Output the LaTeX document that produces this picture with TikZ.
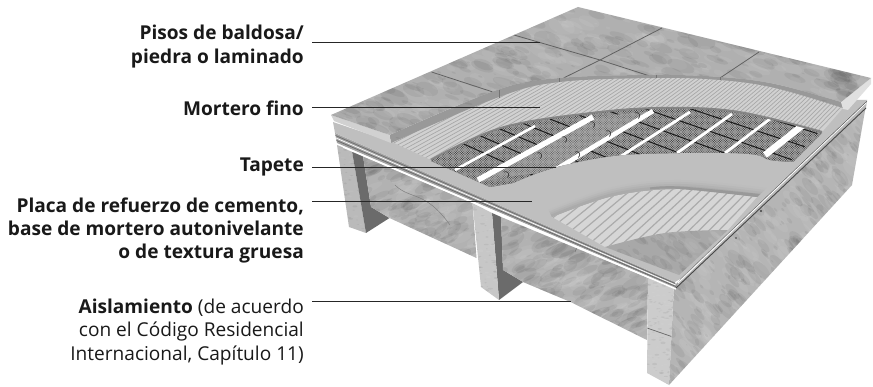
\documentclass[tikz,border=0pt]{standalone}
\usepackage{fontspec}
\setmainfont{Open Sans}
\usetikzlibrary{calc}
\newcommand{\mottle}[7]{% x0 y0 x1 y1 n rmax rotate
  \foreach \ii in {1,...,#5}{%
    \pgfmathsetmacro\mx{#1+rnd*(#3-#1)}%
    \pgfmathsetmacro\my{#2+rnd*(#4-#2)}%
    \pgfmathsetmacro\ra{.8+rnd*#6}%
    \pgfmathsetmacro\rb{\ra*(.22+.35*rnd)}%
    \pgfmathparse{int(mod(\ii,2))}%
    \ifnum\pgfmathresult=1\def\mc{white}\else\def\mc{black}\fi
    \fill[\mc,opacity=.055,rotate around={#7:(\mx,\my)}] (\mx,\my) ellipse [x radius=\ra pt,y radius=\rb pt];
  }}
\newcommand{\ribs}[4]{% count colour width first
  \foreach \ii in {1,...,#1}{%
    \pgfmathsetmacro\tt{(\ii-.5)/#1}%
    \draw[#2,line width=#3] ({331+345*\tt},{115+165*\tt}) -- ({578+293*\tt},{7+71*\tt});
  }}
\newcommand{\meshlines}{%
  \foreach \k in {0,...,215}{%
    \draw[black!30,line width=.55pt] ({425+2.4*\k},100) -- ++(-100,100);
    \draw[black!30,line width=.55pt] ({325+2.4*\k},100) -- ++(100,100);
  }}
\tikzset{
  leader/.style={draw=black!85,line width=.95pt},
  lab/.style={anchor=base east,inner sep=0pt,align=right,text=black!90,font=\fontsize{19.1}{23.3}\selectfont},
  rowline/.style={black!90,line width=1pt},
  jointline/.style={black!62,line width=.8pt},
  strip/.style={white,line cap=butt},
  loop/.style={black!80,line width=.6pt}
}
\begin{document}
\begin{tikzpicture}[x=1pt,y=-1pt]
\pgfmathsetseed{4711}
\useasboundingbox (0,0) rectangle (873,387);
\fill[white] (0,0) rectangle (873,387);

% --- structure below the slab ---
\fill[black!27] (337,145) -- (352,151) -- (366,233) -- (349,227) -- cycle;
\begin{scope}
  \clip (337,145) -- (352,151) -- (366,233) -- (349,227) -- cycle;
  \mottle{335}{143}{368}{235}{130}{1.8}{0}
\end{scope}
\fill[black!58] (352,151) -- (363,156) -- (371,207) -- (389.5,218) -- (366,233) -- cycle;
\fill[black!30] (363,156) -- (472.5,203) -- (476.5,258) -- (389.5,218) -- (371,207) -- cycle;
\begin{scope}
  \clip (363,156) -- (472.5,203) -- (476.5,258) -- (389.5,218) -- (371,207) -- cycle;
  \mottle{360}{155}{478}{260}{260}{14}{25}
  \draw[black!50,line width=.5pt] (395,185) .. controls (410,200) and (425,190) .. (450,225);
\end{scope}
\fill[black!58] (492,213) -- (501,217) -- (503,270) -- (523,282) -- (499,300) -- cycle;
\fill[black!22] (472.5,203) -- (492,213) -- (499,300) -- (481,287) -- cycle;
\begin{scope}
  \clip (472.5,203) -- (492,213) -- (499,300) -- (481,287) -- cycle;
  \mottle{470}{200}{500}{302}{150}{1.8}{0}
\end{scope}
\fill[black!30] (501,217) -- (648,278) -- (647,340) -- (570.5,302) -- (523,282) -- (503,270) -- cycle;
\begin{scope}
  \clip (501,217) -- (648,278) -- (647,340) -- (570.5,302) -- (523,282) -- (503,270) -- cycle;
  \mottle{498}{215}{650}{342}{400}{15}{25}
  \draw[black!55,line width=.6pt] (580,240) -- (575,252);
\end{scope}
\fill[black!20] (648,278) -- (674,284) -- (669,385) -- (647,373) -- cycle;
\begin{scope}
  \clip (648,278) -- (674,284) -- (669,385) -- (647,373) -- cycle;
  \mottle{645}{276}{676}{387}{220}{1.8}{0}
  \draw[black!60,line width=.7pt] (647,328) -- (673,337);
\end{scope}
\fill[black!29] (674,286) -- (866,105) -- (852,185) -- (669,385) -- cycle;
\begin{scope}
  \clip (674,286) -- (866,105) -- (852,185) -- (669,385) -- cycle;
  \mottle{665}{100}{868}{388}{1100}{11}{-48}
\end{scope}
\fill[black!75] (761,211) circle (1.1pt) (736,238) circle (.9pt);

% --- slab edges ---
\fill[black!36] (335,133) -- (675,282) -- (676,288) -- (337,143) -- cycle;
\foreach \f/\c in {.25/black!58,.5/white,.75/black!60}{
  \draw[\c,line width=.7pt] ($(335,133)!\f!(337,143)$) -- ($(675,282)!\f!(676,288)$);
}
\draw[white,line width=1.5pt] (343,147) -- (676,289);
\fill[black!28] (867,100) -- (680,279) -- (676,288) -- (866,108) -- cycle;
\draw[white,line width=.8pt] (866,103) -- (678,283);
\draw[black!72,line width=.9pt] (866,108) -- (676,288);
\draw[black!60,line width=.6pt] (867,101) -- (680,279);

% --- plate surface ---
\fill[black!25] (333,122) -- (392,142) -- (578,40) -- (848,100) -- (867,100) -- (680,279) -- (675,282) -- (335,133) -- cycle;

% --- lower ribbed area and exposed insulation ---
\fill[black!16] plot[smooth,tension=.6] coordinates {(552,217) (613,196) (680,189) (757,197)}
   -- (727,231) -- (605,247) -- cycle;
\begin{scope}
  \clip plot[smooth,tension=.6] coordinates {(552,217) (613,196) (680,189) (757,197)}
   -- (727,231) -- (605,247) -- cycle;
  \ribs{48}{black!33}{1.2pt}{}
\end{scope}
\fill[black!34] plot[smooth,tension=.6] coordinates {(605,247) (665,233) (728,230)} -- (679,275) -- cycle;
\begin{scope}
  \clip plot[smooth,tension=.6] coordinates {(605,247) (665,233) (728,230)} -- (679,275) -- cycle;
  \mottle{600}{228}{730}{278}{120}{10}{-40}
\end{scope}
% plate lip: a soft step from the plate to its shadow
\foreach \d/\c in {9/black!26,7/black!28,5/black!30,3/black!33}{
  \fill[\c] plot[smooth,tension=.6] coordinates {(552,217) (613,196) (680,189) (757,197)}
   -- plot[smooth,tension=.6] coordinates {({757+\d*1.1},{197-\d}) (680,{189-\d}) (613,{196-\d}) ({552-.4*\d},{217-.8*\d})} -- cycle;
}
\fill[black!40] plot[smooth,tension=.6] coordinates {(650,189.5) (680,189) (757,197)}
   -- plot[smooth,tension=.6] coordinates {(760,194) (680,186.5) (650,187.5)} -- cycle;

% --- upper ribbed mortar ---
\fill[black!18] plot[smooth,tension=.6] coordinates {(392,142) (499,97) (559.5,82) (656,78) (720,80) (775,88) (843,108)}
   -- plot[smooth,tension=.6] coordinates {(822,132) (738.6,112) (665.5,108) (592,113) (501,128) (431,160)} -- cycle;
\begin{scope}
  \clip plot[smooth,tension=.6] coordinates {(392,142) (499,97) (559.5,82) (656,78) (720,80) (775,88) (843,108)}
   -- plot[smooth,tension=.6] coordinates {(822,132) (738.6,112) (665.5,108) (592,113) (501,128) (431,160)} -- cycle;
  \ribs{88}{black!34}{.7pt}{}
\end{scope}
% shadow of the mortar on the mesh
\draw[black!48,line width=2.2pt] plot[smooth,tension=.6] coordinates {(431,160) (501,128) (592,113) (665.5,108) (738.6,112) (822,132)};

% --- mesh with heating wires ---
\fill[black!78] plot[smooth,tension=.6] coordinates {(431,161) (501,129) (592,114) (665.5,109) (738.6,113) (822,133)}
   -- plot[smooth,tension=.6] coordinates {(793,162) (770,160) (757,155) (730,153) (680,153) (613,156) (553,168) (513,183)}
   -- (490,187) -- cycle;
\begin{scope}
  \clip plot[smooth,tension=.6] coordinates {(431,161) (501,129) (592,114) (665.5,109) (738.6,113) (822,133)}
   -- plot[smooth,tension=.6] coordinates {(793,162) (770,160) (757,155) (730,153) (680,153) (613,156) (553,168) (513,183)}
   -- (490,187) -- cycle;
  \meshlines
  \foreach \s in {.14,.205,...,.8}{
    \draw[rowline] ({331+247*\s},{115-108*\s}) -- ({676+195*\s},{280-202*\s});
  }
  \fill[black!62] (593,117) -- (653,111) -- (555,170) -- (478,182) -- cycle;
  \begin{scope}
    \clip (593,117) -- (653,111) -- (555,170) -- (478,182) -- cycle;
    \meshlines
  \end{scope}
  \draw[strip,line width=2.6pt] (535,126) -- (455,170);
  \draw[strip,line width=5.4pt] (593,117) -- (478,180);
  \draw[strip,line width=4.6pt] (653,111) -- (555,170);
  \draw[strip,line width=2.8pt] (690,112) -- (618,158);
  \draw[strip,line width=2.8pt] (732,114) -- (677,153);
  \draw[strip,line width=2.8pt] (770,119) -- (725,153);
  \draw[strip,line width=6.5pt] (803,125) -- (765,155);
  \foreach \lx/\ly in {590/122, 562/137, 537/153, 504/172, 606/131, 575/152, 540/173, 635/113, 792/141}{
    \draw[loop] (\lx,\ly) arc[start angle=120,end angle=-60,radius=3.2pt];
  }
\end{scope}

% --- tiles ---
\fill[black!40] plot[smooth,tension=.6] coordinates {(389.5,135) (497,90) (559.5,78) (654.5,75) (720,77) (775,84) (841,102)}
   -- plot[smooth,tension=.6] coordinates {(843,108) (775,88) (720,80) (656,78) (559.5,82) (499,97) (391,143)} -- cycle;
\begin{scope}
  \clip plot[smooth,tension=.6] coordinates {(389.5,135) (497,90) (559.5,78) (654.5,75) (720,77) (775,84) (841,102)}
   -- plot[smooth,tension=.6] coordinates {(843,108) (775,88) (720,80) (656,78) (559.5,82) (499,97) (391,143)} -- cycle;
  \mottle{388}{72}{845}{145}{130}{4}{-10}
\end{scope}
\fill[black!18] (331,115) -- (389.5,135) -- (391,143) -- (334,121) -- cycle;
\fill[black!12] (871,78) -- (841,102) -- (843,109) -- (848,110) -- (871,84) -- cycle;
\fill[black!31] (331,115) -- (578,7) -- (871,78) -- plot[smooth,tension=.6] coordinates {(841,102) (775,84) (720,77) (654.5,75) (559.5,78) (497,90) (389.5,135)} -- cycle;
\begin{scope}
  \clip (331,115) -- (578,7) -- (871,78) -- plot[smooth,tension=.6] coordinates {(841,102) (775,84) (720,77) (654.5,75) (559.5,78) (497,90) (389.5,135)} -- cycle;
  \mottle{330}{5}{872}{137}{1100}{14}{-20}
  \draw[jointline] (514,35) -- (600,60) -- (656,78);
  \draw[jointline] (662,28) -- (600,60) -- (559.5,80);
  \draw[jointline] (431.6,72) -- (499,94);
  \draw[jointline] (759,52) -- (720,78);
\end{scope}
\draw[black!55,line width=.7pt] (499,90) -- (499,98) (559.5,78) -- (559.5,82) (656,75) -- (656,78) (720,77) -- (720,80);

% --- labels ---
\node[lab] (lab1) at (304,63.3) {\textbf{Pisos de baldosa/}\\\textbf{piedra o laminado}};
\node[lab] (lab2) at (304,115.7) {\textbf{Mortero fino}};
\node[lab] (lab3) at (304,171.7) {\textbf{Tapete}};
\node[lab] (lab4) at (304,259) {\textbf{Placa de refuerzo de cemento,}\\\textbf{base de mortero autonivelante}\\\textbf{o de textura gruesa}};
\node[lab] (lab5) at (304,360) {\textbf{Aislamiento} (de acuerdo\\con el Código Residencial\\Internacional, Capítulo 11)};

\coordinate (t1) at (539.5,42.7);
\coordinate (t2) at (539.5,107.3);
\coordinate (t3) at (556,167.7);
\coordinate (t4) at (532,201.7);
\coordinate (t5) at (570.5,301.7);
\foreach \n in {1,...,5}{
  \draw[leader] (lab\n.east |- t\n) ++(8pt,0) -- (t\n);
}
\end{tikzpicture}
\end{document}
